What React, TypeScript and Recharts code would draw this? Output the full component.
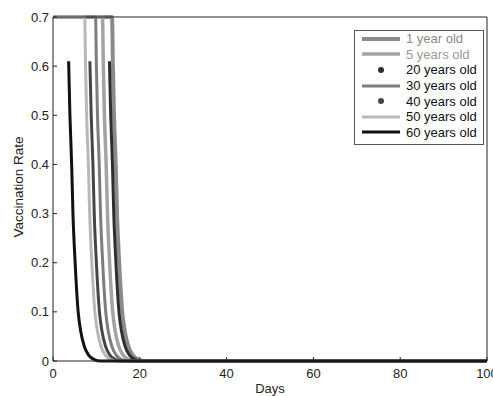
import { LineChart, Line, XAxis, YAxis, Legend } from 'recharts';

// each age group drops from its starting rate at a different day
const oneYear = [
  { day: 0, rate: 0.7 }, { day: 13.6, rate: 0.7 }, { day: 13.8, rate: 0.6 }, { day: 14.05, rate: 0.5 },
  { day: 14.45, rate: 0.4 }, { day: 14.75, rate: 0.3 }, { day: 15.25, rate: 0.2 }, { day: 15.95, rate: 0.1 },
  { day: 16.55, rate: 0.06 }, { day: 17.35, rate: 0.03 }, { day: 18.35, rate: 0.012 }, { day: 19.6, rate: 0.003 },
  { day: 21.1, rate: 0 }, { day: 100, rate: 0 },
];
const fiveYears = [
  { day: 0, rate: 0.7 }, { day: 11.4, rate: 0.7 }, { day: 11.6, rate: 0.6 }, { day: 11.85, rate: 0.5 },
  { day: 12.25, rate: 0.4 }, { day: 12.55, rate: 0.3 }, { day: 13.05, rate: 0.2 }, { day: 13.75, rate: 0.1 },
  { day: 14.35, rate: 0.06 }, { day: 15.15, rate: 0.03 }, { day: 16.15, rate: 0.012 }, { day: 17.4, rate: 0.003 },
  { day: 18.9, rate: 0 }, { day: 100, rate: 0 },
];
const twentyYears = [
  { day: 13.0, rate: 0.61 }, { day: 13.3, rate: 0.5 }, { day: 13.7, rate: 0.4 }, { day: 14.0, rate: 0.3 },
  { day: 14.5, rate: 0.2 }, { day: 15.2, rate: 0.1 }, { day: 15.8, rate: 0.06 }, { day: 16.6, rate: 0.03 },
  { day: 17.6, rate: 0.012 }, { day: 18.9, rate: 0.003 }, { day: 20.4, rate: 0 }, { day: 100, rate: 0 },
];
const thirtyYears = [
  { day: 0, rate: 0.7 }, { day: 9.8, rate: 0.7 }, { day: 10.0, rate: 0.6 }, { day: 10.25, rate: 0.5 },
  { day: 10.65, rate: 0.4 }, { day: 10.95, rate: 0.3 }, { day: 11.45, rate: 0.2 }, { day: 12.15, rate: 0.1 },
  { day: 12.75, rate: 0.06 }, { day: 13.55, rate: 0.03 }, { day: 14.55, rate: 0.012 }, { day: 15.8, rate: 0.003 },
  { day: 17.3, rate: 0 }, { day: 100, rate: 0 },
];
const fortyYears = [
  { day: 8.5, rate: 0.61 }, { day: 8.8, rate: 0.5 }, { day: 9.2, rate: 0.4 }, { day: 9.5, rate: 0.3 },
  { day: 10.0, rate: 0.2 }, { day: 10.7, rate: 0.1 }, { day: 11.3, rate: 0.06 }, { day: 12.1, rate: 0.03 },
  { day: 13.1, rate: 0.012 }, { day: 14.4, rate: 0.003 }, { day: 15.9, rate: 0 }, { day: 100, rate: 0 },
];
const fiftyYears = [
  { day: 0, rate: 0.7 }, { day: 7.3, rate: 0.7 }, { day: 7.5, rate: 0.6 }, { day: 7.75, rate: 0.5 },
  { day: 8.15, rate: 0.4 }, { day: 8.45, rate: 0.3 }, { day: 8.95, rate: 0.2 }, { day: 9.65, rate: 0.1 },
  { day: 10.25, rate: 0.06 }, { day: 11.05, rate: 0.03 }, { day: 12.05, rate: 0.012 }, { day: 13.3, rate: 0.003 },
  { day: 14.8, rate: 0 }, { day: 100, rate: 0 },
];
const sixtyYears = [
  { day: 3.6, rate: 0.61 }, { day: 3.9, rate: 0.5 }, { day: 4.3, rate: 0.4 }, { day: 4.6, rate: 0.3 },
  { day: 5.1, rate: 0.2 }, { day: 5.8, rate: 0.1 }, { day: 6.4, rate: 0.06 }, { day: 7.2, rate: 0.03 },
  { day: 8.2, rate: 0.012 }, { day: 9.5, rate: 0.003 }, { day: 11, rate: 0 }, { day: 100, rate: 0 },
];

// span for the box axes on top and right
const frame = [{ day: 0, rate: 0 }, { day: 100, rate: 0.7 }];

const xTicks = [0, 20, 40, 60, 80, 100];
const yTicks = [0, 0.1, 0.2, 0.3, 0.4, 0.5, 0.6, 0.7];

const series = [
  { name: '1 year old', data: oneYear, color: '#8a8a8a', width: 4, dot: false, text: '#8a8a8a' },
  { name: '5 years old', data: fiveYears, color: '#a3a3a3', width: 3.5, dot: false, text: '#999' },
  { name: '20 years old', data: twentyYears, color: '#2e2e2e', width: 3, dot: true, text: '#111' },
  { name: '30 years old', data: thirtyYears, color: '#7d7d7d', width: 3, dot: false, text: '#111' },
  { name: '40 years old', data: fortyYears, color: '#454545', width: 3, dot: true, text: '#111' },
  { name: '50 years old', data: fiftyYears, color: '#b8b8b8', width: 3, dot: false, text: '#111' },
  { name: '60 years old', data: sixtyYears, color: '#111', width: 3, dot: false, text: '#111' },
];

const font = '"Liberation Sans", Arial, sans-serif';

function LegendBox() {
  return (
    <div style={{ border: '1px solid #555', background: '#fff', padding: '0px 4px 4px 6px', width: 118, fontFamily: font, fontSize: 13 }}>
      {series.map(s => (
        <div key={s.name} style={{ display: 'flex', alignItems: 'center', height: 15.6, lineHeight: '15px' }}>
          <svg width={40} height={10} style={{ marginRight: 5, flexShrink: 0 }}>
            {s.dot
              ? <circle cx={20} cy={5} r={3} fill={s.color} />
              : <line x1={1} y1={5} x2={39} y2={5} stroke={s.color} strokeWidth={s.width} />}
          </svg>
          <span style={{ color: s.text, whiteSpace: 'nowrap' }}>{s.name}</span>
        </div>
      ))}
    </div>
  );
}

export default function App() {
  return (
    <div style={{ position: 'absolute', left: 0, top: 0, width: 493, height: 396, overflow: 'hidden', background: '#fff' }}>
      <LineChart width={500} height={396} margin={{ top: 16, right: 12, bottom: 0, left: 0 }}>
        <XAxis
          type="number"
          dataKey="day"
          domain={[0, 100]}
          ticks={xTicks}
          height={35}
          stroke="#222"
          tickSize={-4}
          tickMargin={12}
          tick={{ fill: '#222', fontSize: 13, fontFamily: font }}
          allowDuplicatedCategory={false}
          label={{ value: 'Days', position: 'insideBottom', offset: 3, fill: '#222', fontSize: 13, fontFamily: font }}
        />
        <XAxis xAxisId="top" orientation="top" type="number" dataKey="day" domain={[0, 100]} ticks={xTicks} height={1} stroke="#222" tickSize={-4} tick={false} />
        <YAxis
          type="number"
          domain={[0, 0.7]}
          ticks={yTicks}
          width={53}
          stroke="#222"
          tickSize={-4}
          tickMargin={8}
          tick={{ fill: '#222', fontSize: 13, fontFamily: font }}
          label={{ value: 'Vaccination Rate', angle: -90, position: 'center', dx: -8, dy: -2, fill: '#222', fontSize: 13.5, fontFamily: font }}
        />
        <YAxis yAxisId="right" orientation="right" type="number" domain={[0, 0.7]} ticks={yTicks} width={1} stroke="#222" tickSize={-4} tick={false} />
        <Line
          xAxisId="top"
          yAxisId="right"
          data={frame}
          dataKey="rate"
          stroke="none"
          dot={false}
          legendType="none"
          isAnimationActive={false}
        />
        {series.map(s => (
          <Line
            key={s.name}
            data={s.data}
            dataKey="rate"
            name={s.name}
            type="monotone"
            stroke={s.color}
            strokeWidth={s.width}
            dot={false}
            isAnimationActive={false}
          />
        ))}
        <Legend
          layout="vertical"
          align="center"
          verticalAlign="middle"
          content={() => <LegendBox />}
          wrapperStyle={{ position: 'absolute', left: 354, top: 30, width: 'auto', height: 'auto' }}
        />
      </LineChart>
    </div>
  );
}
